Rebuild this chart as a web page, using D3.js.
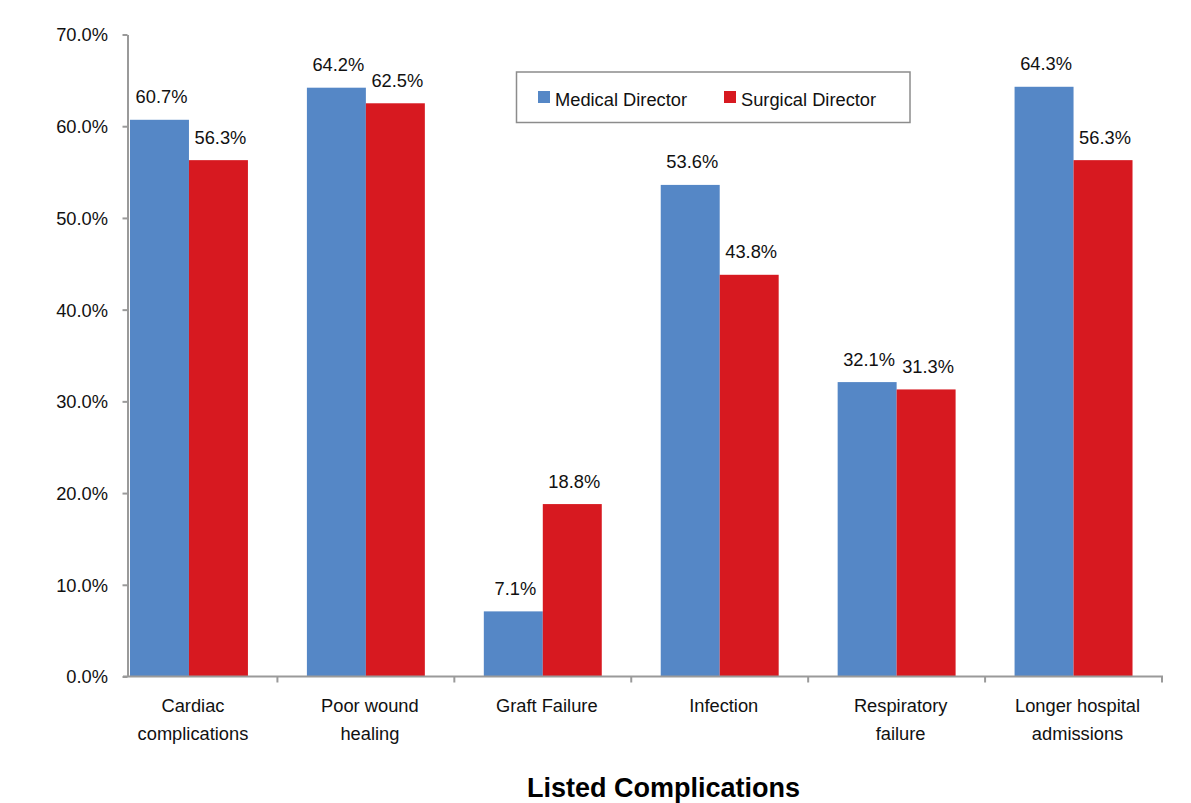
<!DOCTYPE html>
<html>
<head>
<meta charset="utf-8">
<script src="https://cdn.jsdelivr.net/npm/d3@7"></script>
<style>
  html, body { margin: 0; padding: 0; background: #fff; }
  svg { display: block; font-family: "Liberation Sans", Arial, sans-serif; }
</style>
</head>
<body>
<svg id="chart" width="1191" height="803"></svg>
<script>
const categories = [
  ["Cardiac", "complications"],
  ["Poor wound", "healing"],
  ["Graft Failure"],
  ["Infection"],
  ["Respiratory", "failure"],
  ["Longer hospital", "admissions"]
];
const seriesNames = ["Medical Director", "Surgical Director"];
const medicalDirector = [60.7, 64.2, 7.1, 53.6, 32.1, 64.3];
const surgicalDirector = [56.3, 62.5, 18.8, 43.8, 31.3, 56.3];
const yTicks = [0, 10, 20, 30, 40, 50, 60, 70];
const colors = ["#5587C6", "#D71920"];
const xTitle = "Listed Complications";

const svg = d3.select("#chart");
const catKeys = categories.map(c => c.join(" "));
const seriesValues = [medicalDirector, surgicalDirector];

const y = d3.scaleLinear().domain([0, 70]).range([676.5, 34.5]);
const x = d3.scaleBand().domain(catKeys).range([100.5, 1162]).padding(0);
const xs = d3.scaleBand().domain(seriesNames).range([0, x.bandwidth()]).paddingInner(0).paddingOuter(0.5);

const axisColor = "#9a9a9a";

// Bars
catKeys.forEach((k, i) => {
  seriesNames.forEach((s, j) => {
    const v = seriesValues[j][i];
    const bx = x(k) + xs(s);
    svg.append("rect")
      .attr("x", bx)
      .attr("y", y(v))
      .attr("width", xs.bandwidth())
      .attr("height", y(0) - y(v))
      .attr("fill", colors[j]);
    svg.append("text")
      .attr("x", bx + xs.bandwidth() / 2 + 2)
      .attr("y", y(v) - 16.5)
      .attr("text-anchor", "middle")
      .attr("font-size", 18.3)
      .attr("fill", "#111")
      .text(v.toFixed(1) + "%");
  });
});

// Y axis
const yAxis = d3.axisLeft(y).tickValues(yTicks).tickSize(5).tickSizeOuter(0).tickPadding(14.5)
  .tickFormat(d => d.toFixed(1) + "%");
const gy = svg.append("g").attr("transform", "translate(127.5,0)").call(yAxis);
gy.select(".domain").attr("stroke", axisColor).attr("stroke-width", 2);
gy.selectAll(".tick line").attr("stroke", axisColor).attr("stroke-width", 2);
gy.selectAll(".tick text").attr("font-size", 18.3).attr("fill", "#111")
  .attr("font-family", "Liberation Sans, Arial, sans-serif").attr("dy", "0.35em");

// X axis line and boundary ticks
const gx = svg.append("g");
gx.append("line").attr("x1", 123).attr("x2", x.range()[1] + 1).attr("y1", y(0)).attr("y2", y(0))
  .attr("stroke", axisColor).attr("stroke-width", 2);
catKeys.forEach(k => {
  const bxr = x(k) + x.bandwidth();
  gx.append("line").attr("x1", bxr).attr("x2", bxr).attr("y1", y(0)).attr("y2", y(0) + 6)
    .attr("stroke", axisColor).attr("stroke-width", 2);
});

// Category labels
categories.forEach((lines, i) => {
  const cx = x(catKeys[i]) + x.bandwidth() / 2 + 4;
  const t = svg.append("text").attr("text-anchor", "middle").attr("font-size", 18.3).attr("fill", "#111");
  lines.forEach((ln, li) => {
    t.append("tspan").attr("x", cx).attr("y", 711.5 + li * 28).text(ln);
  });
});

// X title
svg.append("text").attr("x", 663.5).attr("y", 797).attr("text-anchor", "middle")
  .attr("font-size", 27).attr("font-weight", "bold").attr("fill", "#000").text(xTitle);

// Legend
const lg = svg.append("g");
lg.append("rect").attr("x", 516.5).attr("y", 72).attr("width", 393.5).attr("height", 50.5)
  .attr("fill", "#fff").attr("stroke", "#8c8c8c").attr("stroke-width", 1.5);
const legendX = [538, 724];
seriesNames.forEach((s, j) => {
  lg.append("rect").attr("x", legendX[j]).attr("y", 91).attr("width", 12).attr("height", 12).attr("fill", colors[j]);
  lg.append("text").attr("x", legendX[j] + 17).attr("y", 106).attr("font-size", 18.3).attr("fill", "#111").text(s);
});
</script>
</body>
</html>
